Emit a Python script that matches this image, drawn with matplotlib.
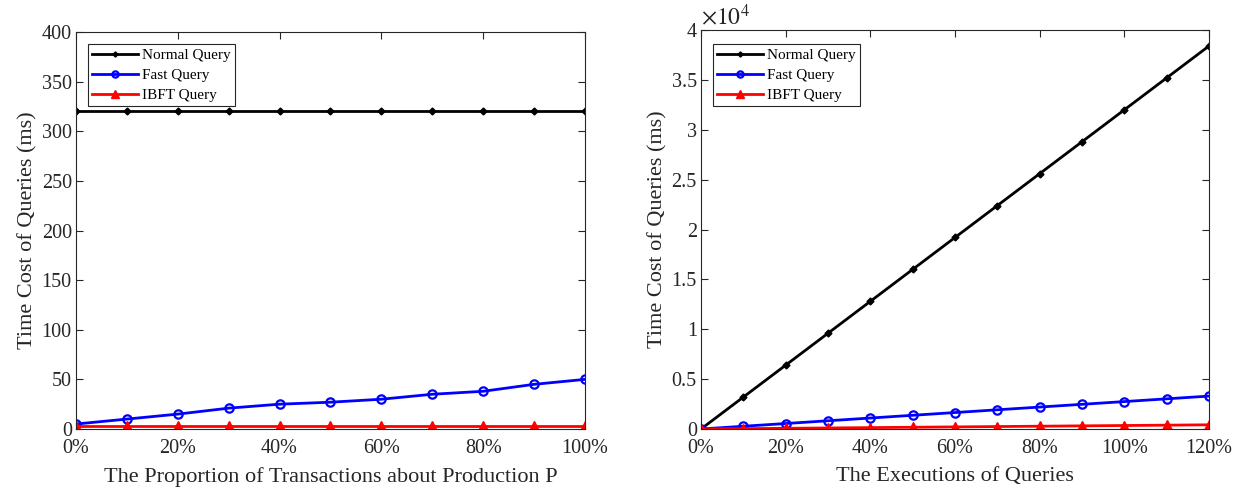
import matplotlib
matplotlib.use("Agg")
import matplotlib.pyplot as plt
from matplotlib.ticker import FuncFormatter, MultipleLocator

plt.rcParams['font.family'] = ['Liberation Serif', 'DejaVu Serif']
plt.rcParams['mathtext.fontset'] = 'stix'

# Left chart data
left_x = [0, 10, 20, 30, 40, 50, 60, 70, 80, 90, 100]
left_normal = [320, 320, 320, 320, 320, 320, 320, 320, 320, 320, 320]
left_fast = [5, 10, 15, 21, 25, 27, 30, 35, 38, 45, 50]
left_ibft = [3, 3, 3, 3, 3, 3, 3, 3, 3, 3, 3]

# Right chart data (ms)
right_x = [0, 10, 20, 30, 40, 50, 60, 70, 80, 90, 100, 110, 120]
right_normal = [0, 3200, 6400, 9600, 12800, 16000, 19200, 22400, 25600, 28800, 32000, 35200, 38400]
right_fast = [0, 275, 550, 825, 1100, 1375, 1650, 1925, 2200, 2475, 2750, 3025, 3300]
right_ibft = [0, 35, 70, 105, 140, 175, 210, 245, 280, 315, 350, 385, 420]

labels = ['Normal Query', 'Fast Query', 'IBFT Query']
axc = '#262626'

fig = plt.figure(figsize=(12.39, 4.88), dpi=100)
ax1 = fig.add_axes([0.0613, 0.1209, 0.4108, 0.8135])
ax2 = fig.add_axes([0.5658, 0.1209, 0.4100, 0.8176])

def style(ax):
    for s in ax.spines.values():
        s.set_color(axc)
        s.set_linewidth(0.8)
    ax.tick_params(direction='in', top=True, right=True, colors=axc,
                   labelcolor=axc, labelsize=14.5, length=5, width=0.8)
    ax.tick_params(axis='x', pad=7)
    ax.tick_params(axis='y', pad=3)

def draw(ax, x, n, f, i, anchor):
    ax.plot(x, n, color='black', lw=2, marker='D', ms=3.5, mfc='black', mec='black', label=labels[0])
    ax.plot(x, f, color='blue', lw=2, marker='o', ms=6, mfc='none', mec='blue', mew=1.6, label=labels[1])
    ax.plot(x, i, color='red', lw=2, marker='^', ms=7.5, mfc='red', mec='red', label=labels[2])
    leg = ax.legend(loc='upper left', fontsize=11, fancybox=False, framealpha=1,
                    edgecolor=axc, borderpad=0.28, labelspacing=0.42, handlelength=3.0,
                    handletextpad=0.25, markerscale=0.75, borderaxespad=0,
                    bbox_to_anchor=anchor)
    leg.get_frame().set_linewidth(0.8)
    for t in leg.get_texts():
        t.set_color('black')

pct = FuncFormatter(lambda v, p: f'{v:g}%')

draw(ax1, left_x, left_normal, left_fast, left_ibft, (0.0236, 0.97))
ax1.set_xlim(0, 100)
ax1.set_ylim(0, 400)
ax1.xaxis.set_major_locator(MultipleLocator(20))
ax1.yaxis.set_major_locator(MultipleLocator(50))
ax1.xaxis.set_major_formatter(pct)
ax1.set_xlabel('The Proportion of Transactions about Production P', fontsize=16, color=axc, labelpad=7)
ax1.set_ylabel('Time Cost of Queries (ms)', fontsize=16, color=axc, labelpad=3)
style(ax1)

draw(ax2, right_x, [v / 1e4 for v in right_normal], [v / 1e4 for v in right_fast],
     [v / 1e4 for v in right_ibft], (0.0236, 0.965))
ax2.set_xlim(0, 120)
ax2.set_ylim(0, 4)
ax2.xaxis.set_major_locator(MultipleLocator(20))
ax2.yaxis.set_major_locator(MultipleLocator(0.5))
ax2.xaxis.set_major_formatter(pct)
ax2.yaxis.set_major_formatter(FuncFormatter(lambda v, p: f'{v:g}'))
ax2.set_xlabel('The Executions of Queries', fontsize=16, color=axc, labelpad=7)
ax2.set_ylabel('Time Cost of Queries (ms)', fontsize=16, color=axc, labelpad=3)
ax2.text(0.0, 1.0, r'$\times10^{4}$', transform=ax2.transAxes, fontsize=17, ha='left', va='bottom', color=axc)
style(ax2)

fig.savefig('out.png', dpi=100)
